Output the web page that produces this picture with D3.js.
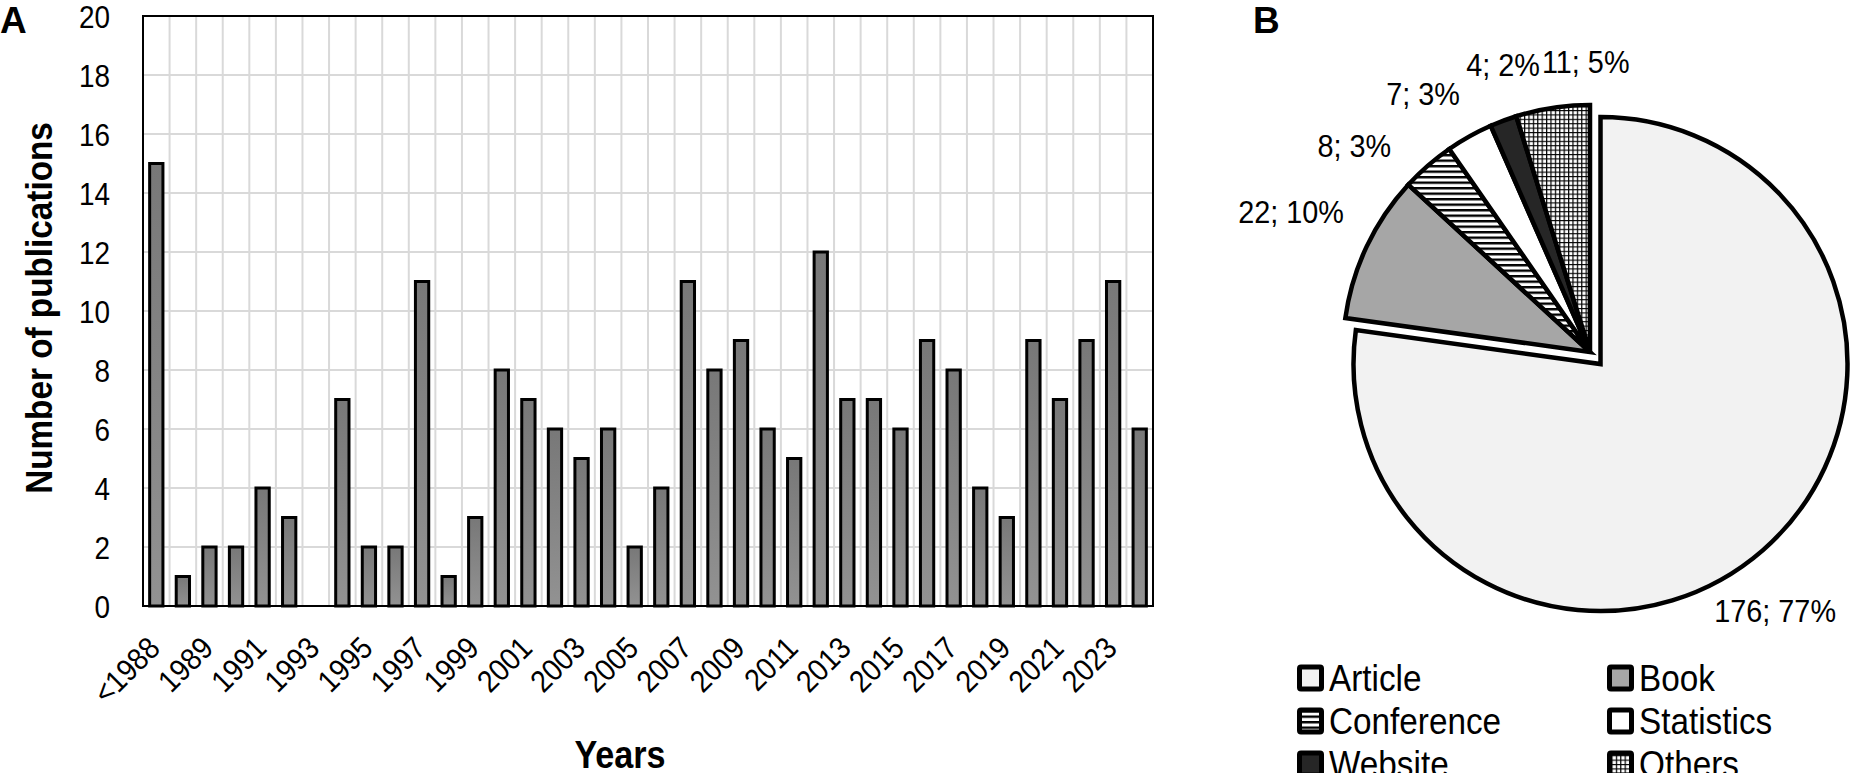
<!DOCTYPE html>
<html>
<head>
<meta charset="utf-8">
<script src="https://cdn.jsdelivr.net/npm/d3@7"></script>
<style>
  html, body { margin: 0; padding: 0; background: #fff; overflow: hidden; }
  svg { display: block; }
</style>
</head>
<body>
<svg id="chart" width="1851" height="773"></svg>
<script>
// Panel A - publications per year
const years = ["<1988", "1988", "1989", "1990", "1991", "1992", "1993", "1994", "1995", "1996",
  "1997", "1998", "1999", "2000", "2001", "2002", "2003", "2004", "2005", "2006",
  "2007", "2008", "2009", "2010", "2011", "2012", "2013", "2014", "2015", "2016",
  "2017", "2018", "2019", "2020", "2021", "2022", "2023", "2024"];
const pubCounts = [15, 1, 2, 2, 4, 3, 0, 7, 2, 2,
  11, 1, 3, 8, 7, 6, 5, 6, 2, 4,
  11, 8, 9, 6, 5, 12, 7, 7, 6, 9,
  8, 4, 3, 9, 7, 9, 11, 6];
const yearTickLabels = ["<1988", "1989", "1991", "1993", "1995", "1997", "1999", "2001", "2003",
  "2005", "2007", "2009", "2011", "2013", "2015", "2017", "2019", "2021", "2023"];
const countTicks = [0, 2, 4, 6, 8, 10, 12, 14, 16, 18, 20];

// Panel B - publication types
const sourceTypes = ["Article", "Book", "Conference", "Statistics", "Website", "Others"];
const sourceCounts = [176, 22, 8, 7, 4, 11];
const sourcePercents = [77, 10, 3, 3, 2, 5];

// No narrow font installed: squeeze Liberation Sans horizontally instead
const FONT = '"Liberation Sans", Arial, sans-serif';
const SQ = 0.9;

// Move a text's x/y into a transform and narrow it (optionally rotated)
const squeeze = (sel, rot = 0) =>
  sel.each(function () {
    const t = d3.select(this);
    const x = +t.attr("x") || 0;
    const y = +t.attr("y") || 0;
    t.attr("x", null).attr("y", null)
      .attr("transform", `translate(${x},${y})${rot ? ` rotate(${rot})` : ""} scale(${SQ},1)`);
  });

const svg = d3.select("#chart");
const defs = svg.append("defs");

// Bar gradient
const grad = defs.append("linearGradient")
  .attr("id", "barGrad").attr("x1", 0).attr("y1", 0).attr("x2", 0).attr("y2", 1);
grad.append("stop").attr("offset", "0%").attr("stop-color", "#787878");
grad.append("stop").attr("offset", "100%").attr("stop-color", "#929292");

// Hatch patterns for the pie
const hLines = defs.append("pattern")
  .attr("id", "hLines").attr("patternUnits", "userSpaceOnUse")
  .attr("width", 6).attr("height", 5.5);
hLines.append("rect").attr("width", 6).attr("height", 5.5).attr("fill", "#fff");
hLines.append("rect").attr("y", 0).attr("width", 6).attr("height", 2.4).attr("fill", "#000");

const grid = defs.append("pattern")
  .attr("id", "smallGrid").attr("patternUnits", "userSpaceOnUse")
  .attr("width", 4.4).attr("height", 4.4);
grid.append("rect").attr("width", 4.4).attr("height", 4.4).attr("fill", "#fff");
grid.append("path").attr("d", "M0,0.6H4.4M0.6,0V4.4")
  .attr("stroke", "#000").attr("stroke-width", 1.2).attr("fill", "none");

// ---------- Panel A ----------
const plot = { left: 143, right: 1153, top: 16, bottom: 606 };

const x = d3.scaleBand().domain(years).range([plot.left, plot.right]).padding(0);
const y = d3.scaleLinear().domain([0, 20]).range([plot.bottom, plot.top]);

const gA = svg.append("g");

// Gridlines
gA.append("g").selectAll("line").data(countTicks).join("line")
  .attr("x1", plot.left).attr("x2", plot.right)
  .attr("y1", (d) => y(d)).attr("y2", (d) => y(d))
  .attr("stroke", "#d9d9d9").attr("stroke-width", 2);
gA.append("g").selectAll("line").data(years.slice(1)).join("line")
  .attr("x1", (d) => x(d)).attr("x2", (d) => x(d))
  .attr("y1", plot.top).attr("y2", plot.bottom)
  .attr("stroke", "#d9d9d9").attr("stroke-width", 2);

// Bars
const barW = x.bandwidth() * 0.5;
gA.append("g").selectAll("rect")
  .data(years.map((yr, i) => ({ yr, v: pubCounts[i] })).filter((d) => d.v > 0))
  .join("rect")
  .attr("x", (d) => x(d.yr) + (x.bandwidth() - barW) / 2)
  .attr("y", (d) => y(d.v))
  .attr("width", barW)
  .attr("height", (d) => y(0) - y(d.v))
  .attr("fill", "url(#barGrad)")
  .attr("stroke", "#000")
  .attr("stroke-width", 3);

// Frame
gA.append("rect")
  .attr("x", plot.left).attr("y", plot.top)
  .attr("width", plot.right - plot.left).attr("height", plot.bottom - plot.top)
  .attr("fill", "none").attr("stroke", "#000").attr("stroke-width", 2);

// Y axis
const yAxis = gA.append("g")
  .attr("transform", `translate(${plot.left},0)`)
  .call(d3.axisLeft(y).tickValues(countTicks).tickSize(0).tickPadding(33));
yAxis.select(".domain").remove();
yAxis.selectAll("text")
  .attr("font-family", FONT).attr("font-size", 31).attr("fill", "#000")
  .attr("dy", "0.36em")
  .call(squeeze);

// X axis (rotated labels)
const xAxis = gA.append("g")
  .attr("transform", `translate(0,${plot.bottom})`)
  .call(d3.axisBottom(x).tickValues(yearTickLabels).tickSize(0));
xAxis.select(".domain").remove();
xAxis.selectAll("text")
  .attr("font-family", FONT).attr("font-size", 31).attr("fill", "#000")
  .attr("text-anchor", "end")
  .attr("x", 5.5).attr("y", 44).attr("dy", 0)
  .call(squeeze, -45);

// Axis titles
gA.append("text")
  .attr("x", 52).attr("y", (plot.top + plot.bottom) / 2 - 3)
  .attr("text-anchor", "middle")
  .attr("font-family", FONT).attr("font-weight", "bold").attr("font-size", 37)
  .text("Number of publications")
  .call(squeeze, -90);
gA.append("text")
  .attr("x", 620).attr("y", 768)
  .attr("text-anchor", "middle")
  .attr("font-family", FONT).attr("font-weight", "bold").attr("font-size", 38)
  .text("Years")
  .call(squeeze);

// Panel letters
svg.append("text").attr("x", 0).attr("y", 33)
  .attr("font-family", FONT).attr("font-weight", "bold").attr("font-size", 37).text("A");
svg.append("text").attr("x", 1253).attr("y", 33)
  .attr("font-family", FONT).attr("font-weight", "bold").attr("font-size", 37).text("B");

// ---------- Panel B ----------
const pieCenter = [1590, 352];
const radius = 247;
const explode = [16, 0, 0, 0, 0, 0];
const sliceFills = ["#f2f2f2", "#a6a6a6", "url(#hLines)", "#ffffff", "#262626", "url(#smallGrid)"];

const pie = d3.pie().sort(null).value((d) => d);
const slices = pie(sourceCounts);
const arc = d3.arc().innerRadius(0).outerRadius(radius);

const gB = svg.append("g").attr("transform", `translate(${pieCenter[0]},${pieCenter[1]})`);

const midAngle = (d) => (d.startAngle + d.endAngle) / 2;
const offsetOf = (d, i) => {
  const a = midAngle(d);
  return [Math.sin(a) * explode[i], -Math.cos(a) * explode[i]];
};

gB.selectAll("path").data(slices).join("path")
  .attr("transform", (d, i) => `translate(${offsetOf(d, i)})`)
  .attr("d", arc)
  .attr("fill", (d, i) => sliceFills[i])
  .attr("stroke", "#000")
  .attr("stroke-width", 4.5)
  .attr("stroke-linejoin", "miter");

// Data labels: outside end, spread apart where crowded
const labelFont = 32;
const labelAngles = slices.map(midAngle);
const minGap = 16 * Math.PI / 180;
for (let it = 0; it < 300; it++) {
  for (let i = 1; i < labelAngles.length; i++) {
    const gap = labelAngles[i] - labelAngles[i - 1];
    if (gap < minGap) {
      const push = (minGap - gap) / 2;
      labelAngles[i - 1] -= push;
      labelAngles[i] += push;
    }
  }
}

// right edge of the chart area, labels are kept inside it
const labelLimitX = 1836 - pieCenter[0];

const labels = gB.selectAll("text.lbl").data(slices).join("text")
  .attr("class", "lbl")
  .attr("font-family", FONT).attr("font-size", labelFont)
  .attr("text-anchor", "middle")
  .text((d, i) => `${sourceCounts[i]}; ${sourcePercents[i]}%`);

labels.each(function (d, i) {
  const w = this.getComputedTextLength() * SQ;
  const h = labelFont * 0.8;
  const a = labelAngles[i];
  const dx = Math.sin(a), dy = -Math.cos(a);
  const dist = radius + 30 + Math.abs(dx) * w / 2 + Math.abs(dy) * h / 2;
  const off = offsetOf(d, i);
  const lx = Math.min(off[0] + dx * dist, labelLimitX - w / 2);
  const ly = off[1] + dy * dist;
  d3.select(this)
    .attr("x", lx)
    .attr("y", ly + labelFont * 0.36);
});
labels.call(squeeze);

// Legend
const legendCols = [1297, 1607];
const legendRows = [678, 721, 764];
const legend = svg.append("g").selectAll("g").data(sourceTypes).join("g")
  .attr("transform", (d, i) => `translate(${legendCols[i % 2]},${legendRows[Math.floor(i / 2)]})`);
legend.append("rect")
  .attr("x", 2.5).attr("y", -11).attr("width", 22).attr("height", 22).attr("rx", 1.5)
  .attr("fill", (d, i) => sliceFills[i])
  .attr("stroke", "#000").attr("stroke-width", 5);
legend.append("text")
  .attr("x", 32).attr("y", 13)
  .attr("font-family", FONT).attr("font-size", 37)
  .text((d) => d)
  .call(squeeze);
</script>
</body>
</html>
